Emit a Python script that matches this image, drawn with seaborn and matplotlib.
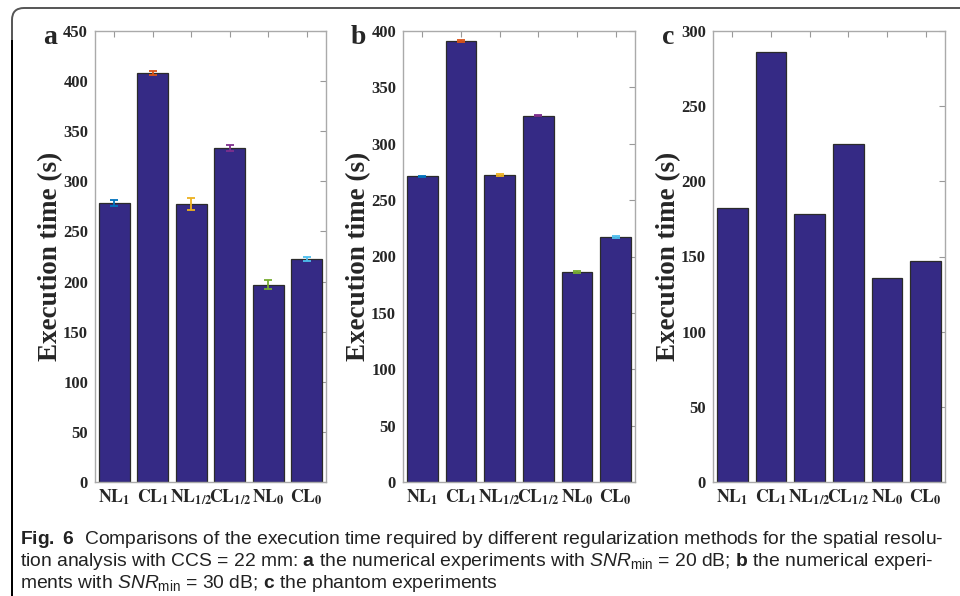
import matplotlib
matplotlib.use("Agg")
import matplotlib.pyplot as plt
import matplotlib.patches as mpatches
from matplotlib.transforms import IdentityTransform
from matplotlib import font_manager
import seaborn as sns

# data
methods = ["NL1", "CL1", "NL1/2", "CL1/2", "NL0", "CL0"]
tick_labels = [r"$\mathbf{NL}_\mathbf{1}$", r"$\mathbf{CL}_\mathbf{1}$",
               r"$\mathbf{NL}_\mathbf{1/2}$", r"$\mathbf{CL}_\mathbf{1/2}$",
               r"$\mathbf{NL}_\mathbf{0}$", r"$\mathbf{CL}_\mathbf{0}$"]
time_a = [278, 408, 277, 333, 197, 223]
err_a = [3, 2, 6, 3, 4.5, 2]
time_b = [271, 391, 272, 325, 186, 217]
err_b = [0.8, 1, 0.8, 0.8, 0.8, 0.8]
time_c = [182, 286, 178, 225, 136, 147]
ymax = [450, 400, 300]
panel_letters = ["a", "b", "c"]

err_colors = ["#0072BD", "#D95319", "#EDB120", "#7E2F8E", "#77AC30", "#4DBEEE"]
bar_color = "#352a85"

sns.set_style("white")
serif = ["Liberation Serif", "DejaVu Serif"]
names = {f.name for f in font_manager.fontManager.ttflist}
cap_font = "Liberation Sans Narrow" if "Liberation Sans Narrow" in names else "Liberation Sans"
plt.rcParams["font.family"] = [cap_font, "DejaVu Sans"]
plt.rcParams["mathtext.fontset"] = "custom"
plt.rcParams["mathtext.rm"] = cap_font
plt.rcParams["mathtext.it"] = cap_font + ":italic"
plt.rcParams["mathtext.bf"] = cap_font + ":bold"

fig = plt.figure(figsize=(9.6, 5.96), dpi=100)

# axes positions in pixels (left, right)
px = [(95, 326), (403, 635), (713, 945)]
top, bottom = 31, 482
W, H = 960, 596

datasets = [(time_a, err_a), (time_b, err_b), (time_c, None)]
for i, ((vals, errs), (l, r)) in enumerate(zip(datasets, px)):
    ax = fig.add_axes([l / W, (H - bottom) / H, (r - l) / W, (bottom - top) / H])
    sns.barplot(x=methods, y=vals, color=bar_color, saturation=1, width=0.8,
                edgecolor="#2b2b2b", linewidth=0.9, ax=ax)
    if errs is not None:
        for j in range(len(vals)):
            ax.errorbar(j, vals[j], yerr=errs[j], color=err_colors[j],
                        capsize=3, elinewidth=1.3, capthick=1.3, zorder=5)
    ax.set_xlim(-0.5, 5.5)
    ax.set_ylim(0, ymax[i])
    ax.set_yticks(range(0, ymax[i] + 1, 50))
    ax.set_xticks(range(6))
    ax.set_xticklabels(tick_labels, math_fontfamily="stix", fontsize=12.8)
    for lab in ax.get_yticklabels():
        lab.set_fontfamily(serif)
        lab.set_fontweight("bold")
        lab.set_fontsize(12)
    ax.tick_params(direction="in", length=4, color="#999999", top=True, right=True,
                   pad=5)
    ax.tick_params(axis="x", pad=4)
    for s in ax.spines.values():
        s.set_color("#aaaaaa")
        s.set_linewidth(1.0)
    ax.set_ylabel("Execution time (s)", family=serif, fontweight="bold", fontsize=19.5,
                  labelpad=0)
    ax.set_xlabel("")
    fig.text((l - 45) / W, (H - 38) / H, panel_letters[i], family=serif,
             fontweight="bold", fontsize=20, ha="center", va="center")

# frame around the figure
box = mpatches.FancyBboxPatch((12, -60), 1100, H - 8 + 60,
                              boxstyle="round,pad=0,rounding_size=12",
                              transform=IdentityTransform(), facecolor="none",
                              edgecolor="#555555", linewidth=1.4)
fig.patches.append(box)
fig.patches.append(mpatches.Rectangle((12, -10), 0, H - 30, transform=IdentityTransform(),
                                      fill=False, edgecolor="black", linewidth=1.4))

caption = [
    r"$\mathbf{Fig.\ 6}$  Comparisons of the execution time required by different regularization methods for the spatial resolu-",
    r"tion analysis with CCS = 22 mm: $\mathbf{a}$ the numerical experiments with $\mathit{SNR}_{\mathrm{min}}$ = 20 dB; $\mathbf{b}$ the numerical experi-",
    r"ments with $\mathit{SNR}_{\mathrm{min}}$ = 30 dB; $\mathbf{c}$ the phantom experiments",
]
for k, line in enumerate(caption):
    fig.text(20 / W, (H - 540 - 22 * k) / H, line, fontsize=13.9, ha="left", va="center",
             color="#222222")

plt.savefig("out.png", dpi=100)
